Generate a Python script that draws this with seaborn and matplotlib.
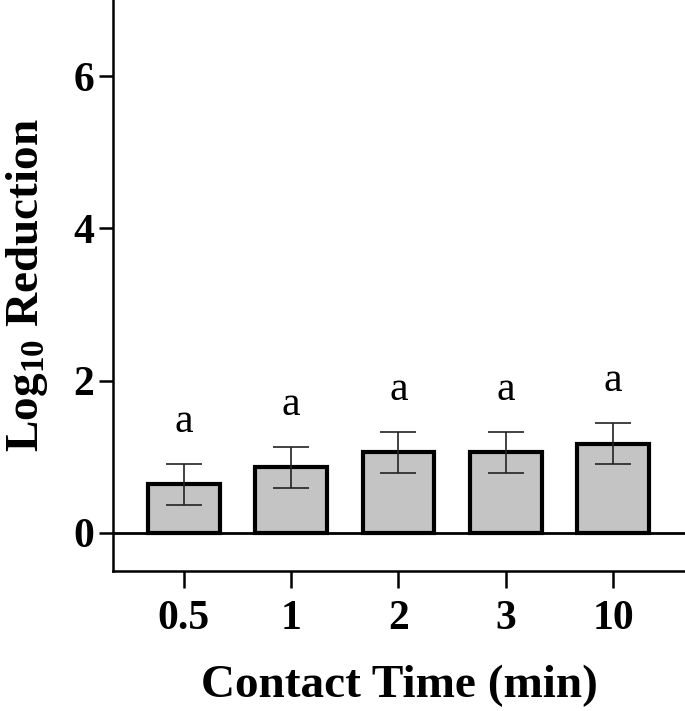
import pandas as pd
import seaborn as sns
import matplotlib.pyplot as plt
import numpy as np

sns.set_theme(style="ticks")
plt.rcParams['font.family'] = ['Liberation Serif', 'DejaVu Serif']
plt.rcParams['mathtext.fontset'] = 'custom'
plt.rcParams['mathtext.rm'] = 'Liberation Serif:bold'
plt.rcParams['mathtext.it'] = 'Liberation Serif:bold'
plt.rcParams['mathtext.bf'] = 'Liberation Serif:bold'
plt.rcParams['text.color'] = 'black'
plt.rcParams['axes.labelcolor'] = 'black'
plt.rcParams['xtick.color'] = 'black'
plt.rcParams['ytick.color'] = 'black'

# data
contact_time = ["0.5", "1", "2", "3", "10"]
log_reduction = [0.64, 0.86, 1.06, 1.06, 1.17]
sd = [0.27, 0.27, 0.27, 0.27, 0.27]
letters = ["a", "a", "a", "a", "a"]

df = pd.DataFrame({"time": contact_time, "reduction": log_reduction})

fig = plt.figure(figsize=(6.85, 7.11), dpi=100)
ax = fig.add_axes([0.165, 0.197, 0.835, 0.803])

sns.barplot(x="time", y="reduction", data=df, color="#c4c4c4", width=0.67,
            edgecolor="black", linewidth=3, saturation=1, errorbar=None, ax=ax)
xs = np.arange(len(contact_time))
ax.errorbar(xs, log_reduction, yerr=sd, fmt="none", ecolor="#222222",
            elinewidth=1.2, capsize=13, capthick=1.2, zorder=5)
for x, v, s, t in zip(xs, log_reduction, sd, letters):
    ax.text(x, v + s + 0.3, t, ha="center", va="bottom", fontsize=30)

ax.axhline(0, color="black", linewidth=2, zorder=6)
ax.set_xlim(-0.66, 4.67)
ax.set_ylim(-0.5, 7.0)
ax.set_yticks([0, 2, 4, 6])
ax.tick_params(axis="both", labelsize=30, width=1.8, length=10)
ax.tick_params(axis="x", pad=9, length=12)
for lab in ax.get_xticklabels() + ax.get_yticklabels():
    lab.set_fontweight("bold")
ax.set_xlabel("Contact Time (min)", fontsize=34, fontweight="bold", labelpad=19)
ax.set_ylabel("Log$_{10}$ Reduction", fontsize=34, fontweight="bold", labelpad=17)
sns.despine(ax=ax)
ax.spines["left"].set_linewidth(1.8)
ax.spines["bottom"].set_linewidth(1.8)
ax.spines["left"].set_color("black")
ax.spines["bottom"].set_color("black")

fig.savefig("out.png", dpi=100)
plt.close()
